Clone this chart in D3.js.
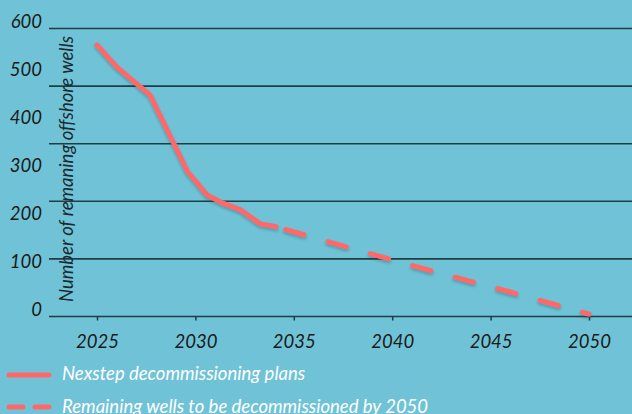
<!DOCTYPE html>
<html>
<head>
<meta charset="utf-8">
<script src="https://cdn.jsdelivr.net/npm/d3@7/dist/d3.min.js"></script>
<style>
  html, body { margin: 0; padding: 0; background: #70c3d6; }
  svg { display: block; }
  text { font-family: Lato, "Open Sans", sans-serif; font-style: italic; }
</style>
</head>
<body>
<svg id="chart" width="632" height="414"></svg>
<script>
// ---- data ----
const planYears   = [2025, 2026, 2027.7, 2029.6, 2030.6, 2031.4, 2032.3, 2033.3, 2034.1];
const planWells   = [565, 519, 460, 301, 252, 235, 221, 192, 186];
const remainYears = [2034.1, 2038, 2042, 2046, 2050];
const remainWells = [186, 140, 94, 50, 4];
const xTicks = [2025, 2030, 2035, 2040, 2045, 2050];
const yTicks = [0, 100, 200, 300, 400, 500, 600];
const gridValues = [0, 120, 240, 360, 480, 600];
const legendLabels = ["Nexstep decommissioning plans", "Remaining wells to be decommissioned by 2050"];
const yTitle = "Number of remaning offshore wells";

const W = 632, H = 414;
const svg = d3.select("#chart");
svg.append("rect").attr("width", W).attr("height", H).attr("fill", "#70c3d6");

const defs = svg.append("defs");
const f = defs.append("filter").attr("id", "shadow").attr("x", "-10%").attr("y", "-10%").attr("width", "120%").attr("height", "130%");
f.append("feDropShadow").attr("dx", 0).attr("dy", 2).attr("stdDeviation", 1.5)
  .attr("flood-color", "#1c4a55").attr("flood-opacity", 0.35);

const x = d3.scaleLinear().domain([2025, 2050]).range([97, 589]);
const y = d3.scaleLinear().domain([0, 600]).range([316, 28]);

// gridlines
svg.append("g").selectAll("line").data(gridValues).join("line")
  .attr("x1", 49).attr("x2", W)
  .attr("y1", d => y(d) + 0.5).attr("y2", d => y(d) + 0.5)
  .attr("stroke", "#1e3e46").attr("stroke-width", 1.6);

// x axis ticks
const xAxis = d3.axisBottom(x).tickValues(xTicks).tickSize(4).tickPadding(14).tickFormat(d3.format("d"));
const gx = svg.append("g").attr("transform", `translate(0,${y(0) + 0.5})`).call(xAxis);
gx.select(".domain").remove();
gx.selectAll(".tick line").attr("stroke", "#1e3e46").attr("stroke-width", 1.5);
gx.selectAll(".tick text").attr("fill", "#1a1a1a").attr("font-size", 18.5)
  .style("font-family", "Lato").style("font-style", "italic");

// y labels
svg.append("g").selectAll("text").data(yTicks).join("text")
  .attr("x", 42).attr("y", d => y(d))
  .attr("text-anchor", "end")
  .attr("fill", "#1a1a1a").attr("font-size", 18.5)
  .text(d => d);

// y title
svg.append("text")
  .attr("transform", `translate(73,169) rotate(-90)`)
  .attr("text-anchor", "middle")
  .attr("fill", "#1a2a30").attr("font-size", 18.5)
  .text(yTitle);

// lines
const line = d3.line().x(d => x(d[0])).y(d => y(d[1])).curve(d3.curveLinear);
const plan = planYears.map((yr, i) => [yr, planWells[i]]);
const remain = remainYears.map((yr, i) => [yr, remainWells[i]]);

svg.append("path").datum(remain).attr("d", line)
  .attr("fill", "none").attr("stroke", "#ff6868").attr("stroke-width", 5)
  .attr("stroke-linecap", "round").attr("stroke-dasharray", "19 25")
  .attr("stroke-dashoffset", -10)
  .attr("filter", "url(#shadow)");

svg.append("path").datum(plan).attr("d", line)
  .attr("fill", "none").attr("stroke", "#ff6868").attr("stroke-width", 5)
  .attr("stroke-linecap", "round").attr("stroke-linejoin", "round")
  .attr("filter", "url(#shadow)");

// legend
const leg = svg.append("g");
leg.append("line").attr("x1", 9).attr("x2", 49).attr("y1", 375).attr("y2", 375)
  .attr("stroke", "#ff6868").attr("stroke-width", 5).attr("stroke-linecap", "round");
leg.append("line").attr("x1", 9).attr("x2", 50).attr("y1", 407).attr("y2", 407)
  .attr("stroke", "#ff6868").attr("stroke-width", 5).attr("stroke-linecap", "round")
  .attr("stroke-dasharray", "14 12");
leg.selectAll("text").data(legendLabels).join("text")
  .attr("x", 62).attr("y", (d, i) => 380 + i * 32.5)
  .attr("fill", "#ffffff").attr("font-size", 18.5)
  .text(d => d);
</script>
</body>
</html>
